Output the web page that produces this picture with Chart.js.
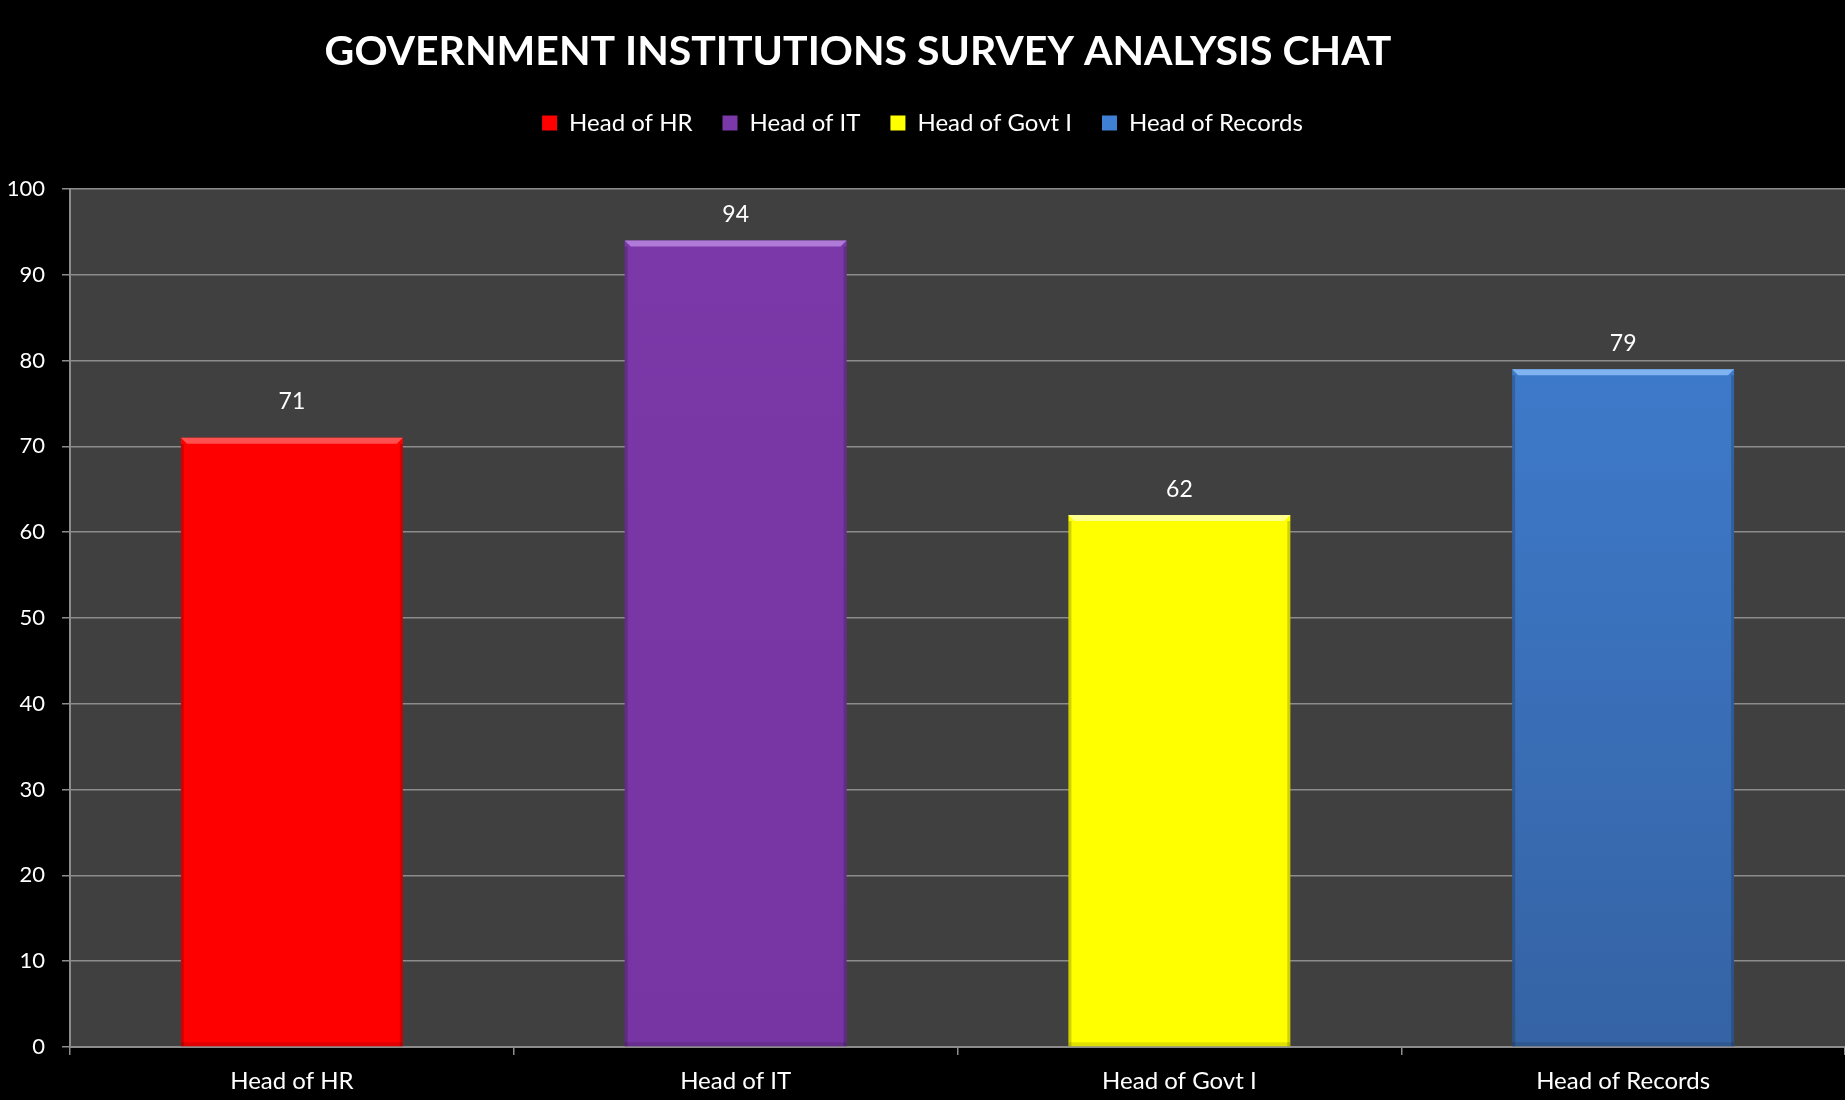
<!doctype html>
<html lang="en">
<head>
  <meta charset="utf-8" />
  <title>Government Institutions Survey Analysis Chat</title>
  <script src="https://cdn.jsdelivr.net/npm/chart.js@4.4.3/dist/chart.umd.min.js"></script>
  <style>
    html, body {
      margin: 0;
      padding: 0;
      background: #000;
    }
    .wrap {
      width: 1845px;
      height: 1100px;
    }
  </style>
</head>
<body>
  <div class="wrap"><canvas id="surveyChart" width="1845" height="1100"></canvas></div>
  <script>
    const chartTitle = "GOVERNMENT INSTITUTIONS SURVEY ANALYSIS CHAT";
    const categories = ["Head of HR", "Head of IT", "Head of Govt I", "Head of Records"];
    const scores = [71, 94, 62, 79];
    const barColors = ["#ff0000", "#7a38a8", "#ffff00", "#4080d4"];
    const barColorsDark = ["#ff0000", "#7735a3", "#ffff00", "#3563a4"];
    const bevelColors = ["#ff5050", "#b07ad8", "#ffff90", "#80b4f0"];
    const yTicks = [0, 10, 20, 30, 40, 50, 60, 70, 80, 90, 100];

    const fontFamily = "Lato, 'Open Sans', sans-serif";
    // gap between bar top and its value label, per bar
    const labelGap = [36, 26, 25, 26];

    // grey plot background behind the bars
    const plotBackground = {
      id: "plotBackground",
      beforeDraw(chart) {
        const { ctx, chartArea } = chart;
        ctx.save();
        ctx.fillStyle = "#404040";
        ctx.fillRect(chartArea.left, chartArea.top, chartArea.right - chartArea.left, chartArea.bottom - chartArea.top);
        ctx.restore();
      },
    };

    // extra room between the legend and the plot
    const legendGap = {
      id: "legendGap",
      beforeInit(chart) {
        const fit = chart.legend.fit;
        chart.legend.fit = function () {
          fit.bind(chart.legend)();
          this.height += 44;
        };
      },
    };

    // lighter top bevel + darker side edges on each bar
    const barBevel = {
      id: "barBevel",
      afterDatasetsDraw(chart) {
        const { ctx } = chart;
        const meta = chart.getDatasetMeta(0);
        ctx.save();
        meta.data.forEach((bar, i) => {
          const half = bar.width / 2;
          const left = bar.x - half;
          const right = bar.x + half;
          const top = bar.y;
          const bottom = bar.base;
          const b = 6;
          ctx.fillStyle = bevelColors[i];
          ctx.beginPath();
          ctx.moveTo(left, top);
          ctx.lineTo(right, top);
          ctx.lineTo(right - b, top + b);
          ctx.lineTo(left + b, top + b);
          ctx.closePath();
          ctx.fill();
          ctx.fillStyle = "rgba(0,0,0,0.18)";
          ctx.fillRect(left, top + b, 3, bottom - top - b);
          ctx.fillRect(right - 3, top + b, 3, bottom - top - b);
          ctx.fillStyle = "rgba(0,0,0,0.12)";
          ctx.fillRect(left, bottom - 4, right - left, 4);
        });
        ctx.restore();
      },
    };

    // values printed above the bars
    const valueLabels = {
      id: "valueLabels",
      afterDatasetsDraw(chart) {
        const { ctx } = chart;
        const meta = chart.getDatasetMeta(0);
        ctx.save();
        ctx.fillStyle = "#ffffff";
        ctx.font = "23px " + fontFamily;
        ctx.textAlign = "center";
        ctx.textBaseline = "middle";
        meta.data.forEach((bar, i) => {
          ctx.fillText(String(scores[i]), bar.x, bar.y - labelGap[i]);
        });
        ctx.restore();
      },
    };

    // bold heading, sits a little left of centre
    const headline = {
      id: "headline",
      afterDraw(chart) {
        const { ctx } = chart;
        ctx.save();
        ctx.fillStyle = "#ffffff";
        ctx.font = "bold 41px " + fontFamily;
        ctx.textAlign = "center";
        ctx.textBaseline = "middle";
        ctx.fillText(chartTitle, 858, 52);
        ctx.restore();
      },
    };

    function barFill(context) {
      const i = context.dataIndex;
      const area = context.chart.chartArea;
      if (!area) return barColors[i];
      const g = context.chart.ctx.createLinearGradient(0, area.top, 0, area.bottom);
      g.addColorStop(0, barColors[i]);
      g.addColorStop(1, barColorsDark[i]);
      return g;
    }

    new Chart(document.getElementById("surveyChart"), {
      type: "bar",
      data: {
        labels: categories,
        datasets: [{
          label: "Score",
          data: scores,
          backgroundColor: barFill,
          borderWidth: 0,
          barPercentage: 0.5,
          categoryPercentage: 1.0,
        }],
      },
      plugins: [legendGap, plotBackground, barBevel, valueLabels, headline],
      options: {
        responsive: false,
        animation: false,
        devicePixelRatio: 1,
        layout: {
          padding: { top: 81, right: 0, bottom: 0, left: 0 },
        },
        plugins: {
          tooltip: { enabled: false },
          title: { display: false },
          legend: {
            display: true,
            position: "top",
            labels: {
              color: "#ffffff",
              font: { family: fontFamily, size: 24 },
              boxWidth: 15,
              boxHeight: 15,
              padding: 30,
              generateLabels() {
                return categories.map((name, i) => ({
                  text: name,
                  fillStyle: barColors[i],
                  strokeStyle: barColorsDark[i],
                  lineWidth: 0,
                  fontColor: "#ffffff",
                  hidden: false,
                  index: i,
                }));
              },
            },
            onClick() {},
          },
        },
        scales: {
          x: {
            offset: true,
            grid: {
              display: true,
              drawOnChartArea: false,
              drawTicks: true,
              tickLength: 8,
              offset: true,
              color: "#8c8c8c",
              lineWidth: 1.5,
            },
            border: { display: true, color: "#8c8c8c", width: 2 },
            ticks: {
              color: "#ffffff",
              font: { family: fontFamily, size: 24 },
              padding: 12,
            },
            afterFit(scale) {
              scale.height = 53;
            },
          },
          y: {
            min: 0,
            max: 100,
            afterBuildTicks(scale) {
              scale.ticks = yTicks.map((v) => ({ value: v }));
            },
            grid: {
              color: "#8c8c8c",
              lineWidth: 1.5,
              tickLength: 8,
            },
            border: { display: true, color: "#8c8c8c", width: 2 },
            ticks: {
              color: "#ffffff",
              font: { family: fontFamily, size: 22 },
              padding: 17,
            },
            afterFit(scale) {
              scale.width = 70;
            },
          },
        },
      },
    });
  </script>
</body>
</html>
